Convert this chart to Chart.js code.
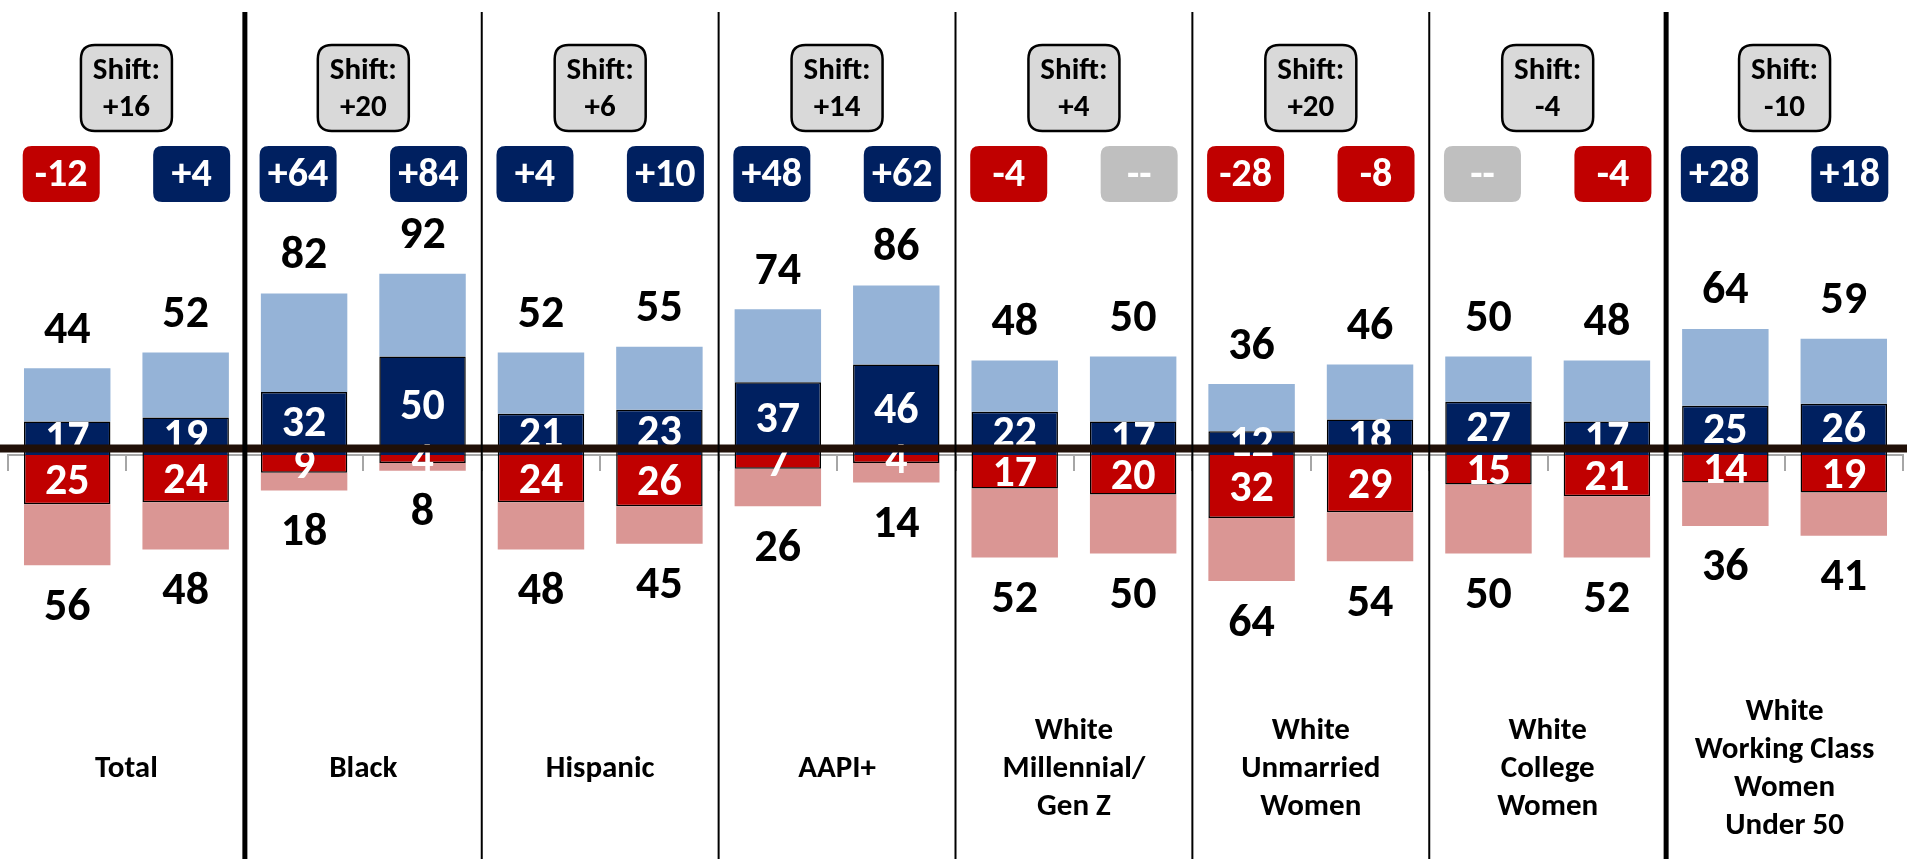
<!DOCTYPE html>
<html>
<head>
<meta charset="utf-8">
<script src="https://cdn.jsdelivr.net/npm/chart.js@4.4.1/dist/chart.umd.min.js"></script>
<style>
html,body{margin:0;padding:0;background:#fff;overflow:hidden;}
#wrap{width:1907px;height:859px;}
</style>
</head>
<body>
<div id="wrap"><canvas id="chart" width="1907" height="859"></canvas></div>
<script>
// groups, two bars each
const groups=[
    ["Total"],
    ["Black"],
    ["Hispanic"],
    ["AAPI+"],
    ["White","Millennial/","Gen Z"],
    ["White","Unmarried","Women"],
    ["White","College","Women"],
    ["White","Working Class","Women","Under 50"]
];
const demStrong=[17,19,32,50,21,23,37,46,22,17,12,18,27,17,25,26];
const demTotal=[44,52,82,92,52,55,74,86,48,50,36,46,50,48,64,59];
const repStrong=[25,24,9,4,24,26,7,4,17,20,32,29,15,21,14,19];
const repTotal=[56,48,18,8,48,45,26,14,52,50,64,54,50,52,36,41];
const margins=[-12,4,64,84,4,10,48,62,-4,null,-28,-8,null,-4,28,18];
const shifts=[16,20,6,14,4,20,-4,-10];

const barLabels=groups.flatMap(g=>[g.join(" ")+" (1)",g.join(" ")+" (2)"]);

const FONT="Carlito, Lato, sans-serif";
const NAVY="#002060";
const RED="#c00000";

function fmt(v){
    if(v===null||v===0)
        return "--";
    return v>0?"+"+v:String(v);
}

function rr(ctx,x,y,w,h,r){
    ctx.beginPath();
    ctx.moveTo(x+r,y);
    ctx.lineTo(x+w-r,y);
    ctx.quadraticCurveTo(x+w,y,x+w,y+r);
    ctx.lineTo(x+w,y+h-r);
    ctx.quadraticCurveTo(x+w,y+h,x+w-r,y+h);
    ctx.lineTo(x+r,y+h);
    ctx.quadraticCurveTo(x,y+h,x,y+h-r);
    ctx.lineTo(x,y+r);
    ctx.quadraticCurveTo(x,y,x+r,y);
    ctx.closePath();
}

const overlay={
    id:"overlay",
    afterDatasetsDraw(chart){
        const ctx=chart.ctx;
        const xs=chart.scales.x;
        const ys=chart.scales.y;
        const zero=ys.getPixelForValue(0);
        const W=chart.width;
        const H=chart.height;
        ctx.save();
        ctx.textAlign="center";
        ctx.textBaseline="middle";

        // numbers inside the strong segments
        ctx.font="bold 44px "+FONT;
        ctx.fillStyle="#fff";
        chart.getDatasetMeta(0).data.forEach((bar,i)=>{
            const c=bar.getCenterPoint();
            ctx.fillText(demStrong[i],c.x,c.y+2);
        });
        chart.getDatasetMeta(2).data.forEach((bar,i)=>{
            const c=bar.getCenterPoint();
            ctx.fillText(repStrong[i],c.x,c.y+3);
        });

        // totals above / below
        ctx.font="bold 46px "+FONT;
        ctx.fillStyle="#000";
        demTotal.forEach((v,i)=>{
            ctx.fillText(v,xs.getPixelForValue(i),ys.getPixelForValue(v)-37);
        });
        repTotal.forEach((v,i)=>{
            ctx.fillText(v,xs.getPixelForValue(i),ys.getPixelForValue(-v)+43);
        });

        // thick zero line
        ctx.fillStyle="#201008";
        ctx.fillRect(0,zero-10.5,W,8);

        // group separators
        ctx.fillStyle="#000";
        for(let g=1;g<groups.length;g++){
            const xb=(xs.getPixelForValue(2*g-1)+xs.getPixelForValue(2*g))/2;
            const w=(g===1||g===groups.length-1)?5:2;
            ctx.fillRect(xb-w/2,12,w,H-12);
        }

        // shift boxes
        shifts.forEach((s,g)=>{
            const gc=(xs.getPixelForValue(2*g)+xs.getPixelForValue(2*g+1))/2;
            rr(ctx,gc-45.5,45,91,86,14);
            ctx.fillStyle="#d9d9d9";
            ctx.fill();
            ctx.lineWidth=2.5;
            ctx.strokeStyle="#000";
            ctx.stroke();
            ctx.fillStyle="#000";
            ctx.font="bold 31px "+FONT;
            ctx.fillText("Shift:",gc,71);
            ctx.fillText(fmt(s),gc,108);
        });

        // margin badges
        margins.forEach((m,i)=>{
            const bx=xs.getPixelForValue(i)+(i%2?6:-6);
            rr(ctx,bx-38.5,146,77,56,9);
            ctx.fillStyle=m===null?"#bfbfbf":(m>0?NAVY:RED);
            ctx.fill();
            ctx.fillStyle="#fff";
            ctx.font="bold 40px "+FONT;
            ctx.fillText(fmt(m),bx,176);
        });

        // group names
        ctx.fillStyle="#000";
        ctx.font="bold 31px "+FONT;
        groups.forEach((lines,g)=>{
            const gc=(xs.getPixelForValue(2*g)+xs.getPixelForValue(2*g+1))/2;
            const top=769-(lines.length-1)*38/2;
            lines.forEach((t,k)=>ctx.fillText(t,gc,top+k*38));
        });
        ctx.restore();
    }
};

new Chart(document.getElementById("chart"),{
    type:"bar",
    data:{
        labels:barLabels,
        datasets:[
            {
                label:"Strong Dem",
                data:demStrong,
                backgroundColor:NAVY,
                borderColor:"#000",
                borderWidth:1.5
            },
            {
                label:"Lean Dem",
                data:demTotal.map((v,i)=>v-demStrong[i]),
                backgroundColor:"#95b3d7"
            },
            {
                label:"Strong Rep",
                data:repStrong.map(v=>-v),
                backgroundColor:RED,
                borderColor:"#000",
                borderWidth:1.5
            },
            {
                label:"Lean Rep",
                data:repTotal.map((v,i)=>-(v-repStrong[i])),
                backgroundColor:"#da9694"
            }
        ]
    },
    options:{
        responsive:false,
        animation:false,
        layout:{
            padding:{left:8,right:4,top:0,bottom:0}
        },
        datasets:{
            bar:{
                barPercentage:0.73,
                categoryPercentage:1
            }
        },
        plugins:{
            legend:{display:false},
            tooltip:{enabled:false}
        },
        scales:{
            x:{
                stacked:true,
                position:{y:0},
                ticks:{display:false},
                grid:{
                    drawOnChartArea:false,
                    drawTicks:true,
                    tickLength:15,
                    color:"#a6a6a6",
                    lineWidth:2
                },
                border:{
                    display:true,
                    color:"#a6a6a6",
                    width:2
                }
            },
            y:{
                stacked:true,
                display:false,
                min:-205.1,
                max:231
            }
        }
    },
    plugins:[overlay]
});
</script>
</body>
</html>
